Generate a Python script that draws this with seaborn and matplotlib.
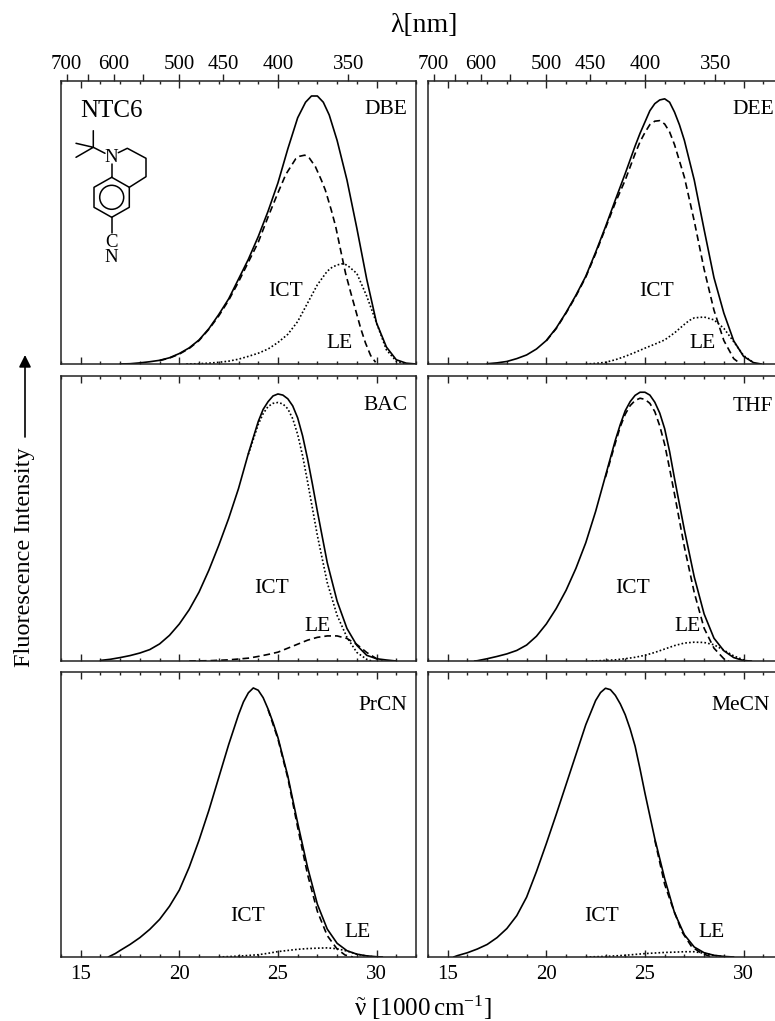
import matplotlib
matplotlib.use('Agg')
import matplotlib.pyplot as plt
from matplotlib.patches import Circle
from matplotlib.ticker import MultipleLocator
import seaborn as sns

# --- valores (x em 1000 cm-1, y em % da altura do painel) ---
dbe_total_x = [17, 17.5, 18, 18.5, 19, 19.5, 20, 20.5, 21, 21.5, 22, 22.5, 23, 23.5, 24, 24.5, 25, 25.5, 26, 26.4, 26.7, 27, 27.3, 27.6, 28, 28.5, 29, 29.5, 30, 30.5, 31, 31.5, 32]
dbe_total_y = [0, 0.1, 0.4, 0.8, 1.3, 2.2, 3.7, 5.7, 8.5, 12.5, 17.5, 23, 30, 37, 45, 54, 64, 76, 87, 92.5, 94.7, 94.7, 92.5, 88, 79, 65, 48, 30, 14.5, 6, 1.5, 0.3, 0]
dbe_dash_x = [19, 19.5, 20, 20.5, 21, 21.5, 22, 22.5, 23, 23.5, 24, 24.5, 25, 25.4, 25.9, 26.1, 26.36, 26.6, 26.9, 27.2, 27.4, 27.7, 27.93, 28.2, 28.43, 28.7, 28.94, 29.2, 29.44, 29.7, 29.95]
dbe_dash_y = [1.2, 2.1, 3.5, 5.5, 8.3, 12.3, 17, 22.5, 29, 36, 43, 52, 60.5, 67, 72.5, 73.4, 73.8, 72.7, 69.7, 65, 61.5, 54.5, 48.5, 39.5, 32, 25, 19, 12.5, 7.4, 3, 0.6]
dbe_dot_x = [20.35, 21, 21.5, 22, 22.5, 23, 23.5, 24, 24.5, 25, 25.5, 26, 26.5, 27, 27.5, 27.75, 28, 28.25, 28.5, 29, 29.5, 30, 30.5, 31, 31.5]
dbe_dot_y = [0, 0.1, 0.3, 0.6, 1, 1.7, 2.7, 3.8, 5.3, 7.6, 10.5, 15, 21.5, 28, 32.8, 34.2, 35, 35.4, 35, 32, 24, 14.5, 5, 1, 0]

dee_total_x = [17, 17.5, 18, 18.5, 19, 19.5, 20, 20.5, 21, 21.5, 22, 22.5, 23, 23.5, 24, 24.5, 24.75, 25, 25.25, 25.5, 25.75, 26, 26.25, 26.5, 26.75, 27, 27.5, 28, 28.5, 29, 29.5, 30, 30.5, 30.9]
dee_total_y = [0.1, 0.4, 0.9, 1.9, 3.2, 5.3, 8.3, 12.7, 18.2, 24.3, 31, 39.5, 48.5, 58, 67.3, 77, 81.5, 85.5, 89.5, 92, 93.3, 93.7, 92.5, 89, 84.5, 79, 65, 47.5, 30.5, 18, 8.2, 2.7, 0.5, 0]
dee_dash_x = [20, 20.5, 21, 21.5, 22, 22.5, 23, 23.5, 24, 24.5, 24.75, 25, 25.25, 25.5, 25.75, 26, 26.25, 26.5, 27, 27.5, 28, 28.5, 29, 29.5, 29.8]
dee_dash_y = [8.2, 12.5, 18, 24, 30.7, 39, 48, 57, 65, 74.3, 78.5, 81.8, 84.6, 85.8, 86, 84.8, 82, 77.5, 66, 50.5, 33.5, 19, 8.3, 1.9, 0.3]
dee_dot_x = [22, 22.5, 23, 23.5, 24, 24.5, 25, 25.5, 26, 26.5, 27, 27.25, 27.5, 28, 28.5, 29, 29.5, 30, 30.5]
dee_dot_y = [0, 0.2, 0.6, 1.5, 2.7, 4.1, 5.6, 7, 8.5, 11, 14, 15.4, 16.3, 16.6, 15.6, 12.6, 7.9, 3, 0.5]

bac_total_x = [16, 16.5, 17, 17.5, 18, 18.5, 19, 19.5, 20, 20.5, 21, 21.5, 22, 22.5, 23, 23.5, 24, 24.25, 24.5, 24.75, 25, 25.25, 25.5, 25.75, 26, 26.25, 26.5, 26.75, 27, 27.5, 28, 28.5, 29, 29.5, 30, 30.5, 31]
bac_total_y = [0.2, 0.6, 1.2, 1.9, 2.8, 4, 6, 9, 13, 18, 24.2, 31.9, 40.6, 50, 60.5, 72.8, 84, 88.3, 91, 93, 93.7, 93.3, 92, 89.5, 85.3, 79, 71, 62, 52.5, 34.5, 21, 11.4, 5.5, 2, 0.8, 0.35, 0]
bac_dot_x = [23.5, 24, 24.25, 24.5, 24.75, 25, 25.25, 25.5, 25.75, 26, 26.25, 26.5, 26.75, 27, 27.5, 28, 28.5, 29, 29.5, 29.75]
bac_dot_y = [72.5, 83, 86.8, 89.3, 90.4, 90.7, 90.2, 88.5, 85, 79.5, 72, 63, 53.5, 44, 27.5, 16, 8.3, 3, 0.6, 0]
bac_dash_x = [20.5, 21.5, 22.5, 23, 23.5, 24, 24.5, 25, 25.5, 26, 26.5, 27, 27.5, 28, 28.5, 29, 29.5, 30, 30.3]
bac_dash_y = [0, 0.1, 0.4, 0.7, 1, 1.6, 2.3, 3.1, 4.5, 5.9, 7.3, 8.3, 8.8, 8.8, 7.9, 5.8, 3, 0.8, 0.2]

thf_total_x = [16.36, 16.5, 17, 17.5, 18, 18.5, 19, 19.5, 20, 20.5, 21, 21.5, 22, 22.5, 23, 23.5, 23.75, 24, 24.25, 24.5, 24.75, 25, 25.25, 25.5, 25.75, 26, 26.25, 26.5, 27, 27.5, 28, 28.5, 29, 29.5, 30, 30.4]
thf_total_y = [0, 0.1, 0.8, 1.6, 2.5, 3.7, 5.6, 8.7, 13, 18.4, 24.8, 32.5, 41.5, 52.5, 65, 77.5, 83, 87.8, 91, 93.2, 94.3, 94.3, 93.3, 90.8, 87, 81.5, 73.5, 64, 46, 29.5, 16.5, 8, 3.6, 1.2, 0.15, 0]
thf_dash_x = [23, 23.5, 23.75, 24, 24.25, 24.5, 24.75, 25, 25.25, 25.5, 25.75, 26, 26.25, 26.5, 27, 27.5, 28, 28.5, 29, 29.25]
thf_dash_y = [64.5, 76.5, 82.2, 86.6, 89.6, 91.4, 92.2, 91.8, 90.4, 87.5, 82.5, 76, 67.5, 58.5, 40, 24, 11.5, 4.5, 0.8, 0]
thf_dot_x = [22.3, 23, 23.5, 24, 24.5, 25, 25.5, 26, 26.5, 27, 27.5, 28, 28.5, 29, 29.5, 30, 30.2]
thf_dot_y = [0, 0.2, 0.4, 0.8, 1.3, 2, 3, 4.2, 5.4, 6.3, 6.6, 6.5, 5.7, 3.8, 1.8, 0.4, 0]

prcn_total_x = [16.4, 16.75, 17, 17.5, 18, 18.5, 19, 19.5, 20, 20.5, 21, 21.5, 22, 22.5, 23, 23.25, 23.5, 23.75, 24, 24.25, 24.5, 24.75, 25, 25.5, 26, 26.5, 27, 27.5, 28, 28.5, 29, 29.5, 30, 30.3]
prcn_total_y = [0, 1.2, 2.3, 4.4, 6.8, 9.7, 13.2, 17.8, 23.5, 31.5, 41, 51.5, 63, 74.5, 85, 89.5, 92.7, 94.4, 93.6, 91, 87, 82.3, 77, 63.5, 47, 31.5, 18.5, 9.8, 4.8, 2.2, 1, 0.4, 0.1, 0]
prcn_dash_x = [24.5, 25, 25.5, 26, 26.5, 27, 27.5, 28, 28.4, 28.8]
prcn_dash_y = [86.8, 76.5, 62.8, 45.5, 29, 16, 7.5, 2.8, 0.7, 0]
prcn_dot_x = [22, 23, 24, 24.5, 25, 25.5, 26, 26.5, 27, 27.5, 28, 28.5, 29, 29.5, 30]
prcn_dot_y = [0, 0.3, 0.8, 1.3, 1.9, 2.3, 2.7, 2.95, 3.1, 3.2, 2.9, 2.1, 1, 0.3, 0]

mecn_total_x = [15.3, 15.5, 16, 16.5, 17, 17.5, 18, 18.5, 19, 19.5, 20, 20.5, 21, 21.5, 22, 22.5, 22.75, 23, 23.25, 23.5, 23.75, 24, 24.25, 24.5, 24.75, 25, 25.5, 26, 26.5, 27, 27.5, 28, 28.5, 29, 29.5]
mecn_total_y = [0, 0.5, 1.5, 2.8, 4.4, 6.8, 10, 14.5, 21, 30, 39.8, 50, 60.5, 71, 81.5, 90, 92.8, 94.3, 93.8, 91.8, 88.8, 85, 80, 74, 66, 57.5, 41.5, 27.5, 15.5, 7.8, 3.5, 1.5, 0.6, 0.2, 0]
mecn_dash_x = [25.5, 26, 26.36, 26.87, 27.37, 27.87, 28.38]
mecn_dash_y = [41, 25.5, 18.3, 8.9, 3.6, 1.3, 0]
mecn_dot_x = [22, 23, 24, 25, 25.5, 26, 26.5, 27, 27.5, 28, 28.5, 29]
mecn_dot_y = [0, 0.2, 0.6, 1.2, 1.4, 1.6, 1.7, 1.85, 1.85, 1.3, 0.55, 0.1]

solvents = ['DBE', 'DEE', 'BAC', 'THF', 'PrCN', 'MeCN']
wavelength_labeled = [700, 600, 500, 450, 400, 350]
wavelength_unlabeled = [650, 550]
wavenumber_ticks = [15, 20, 25, 30]

DASH = (0, (4, 2.4))
DOT = (0, (1, 1.3))

sns.set_theme(style='ticks')
plt.rcParams['font.family'] = ['Liberation Serif', 'DejaVu Serif']
# mathtext reto na mesma fonte, para o nu com til
plt.rcParams['mathtext.fontset'] = 'custom'
plt.rcParams['mathtext.rm'] = 'Liberation Serif'
plt.rcParams['mathtext.it'] = 'Liberation Serif'
plt.rcParams['axes.edgecolor'] = '#222222'
plt.rcParams['text.color'] = 'black'
plt.rcParams['xtick.labelcolor'] = 'black'

W, H = 775, 1021
fig = plt.figure(figsize=(W / 100, H / 100), dpi=100)


def panel_axes(left, top, bottom):
    # 355 px de largura, o painel da direita passa da borda da figura
    return fig.add_axes([left / W, 1 - bottom / H, 355 / W, (bottom - top) / H])


def draw(ax, xs, ys, style):
    sns.lineplot(x=xs, y=ys, ax=ax, color='black', linewidth=1.2, linestyle=style,
                 estimator=None, sort=False, errorbar=None)


panels = [
    (61, 81, 364, [(dbe_total_x, dbe_total_y, '-'), (dbe_dash_x, dbe_dash_y, DASH), (dbe_dot_x, dbe_dot_y, DOT)]),
    (428, 81, 364, [(dee_total_x, dee_total_y, '-'), (dee_dash_x, dee_dash_y, DASH), (dee_dot_x, dee_dot_y, DOT)]),
    (61, 376, 661, [(bac_total_x, bac_total_y, '-'), (bac_dot_x, bac_dot_y, DOT), (bac_dash_x, bac_dash_y, DASH)]),
    (428, 376, 661, [(thf_total_x, thf_total_y, '-'), (thf_dash_x, thf_dash_y, DASH), (thf_dot_x, thf_dot_y, DOT)]),
    (61, 672, 957, [(prcn_total_x, prcn_total_y, '-'), (prcn_dash_x, prcn_dash_y, DASH), (prcn_dot_x, prcn_dot_y, DOT)]),
    (428, 672, 957, [(mecn_total_x, mecn_total_y, '-'), (mecn_dash_x, mecn_dash_y, DASH), (mecn_dot_x, mecn_dot_y, DOT)]),
]

for i, (left, top, bottom, curves) in enumerate(panels):
    ax = panel_axes(left, top, bottom)
    for xs, ys, style in curves:
        draw(ax, xs, ys, style)
    ax.set_xlim(14, 32)
    ax.set_ylim(0, 100)
    ax.set_yticks([])
    ax.xaxis.set_major_locator(MultipleLocator(5))
    ax.xaxis.set_minor_locator(MultipleLocator(1))
    ax.tick_params(axis='x', which='major', direction='in', top=True, bottom=True, length=5, width=1,
                   color='#222222', labelbottom=i >= 4, labelsize=15, pad=6)
    ax.tick_params(axis='x', which='minor', direction='in', top=True, bottom=True, length=2.5, width=1,
                   color='#222222')
    ax.set_xticks(wavenumber_ticks)
    for s in ax.spines.values():
        s.set_linewidth(1.1)
    if i < 2:
        # eixo de comprimento de onda em nm
        sec = ax.secondary_xaxis('top', functions=(lambda k: 1e4 / k, lambda k: 1e4 / k))
        sec.set_xticks(wavelength_labeled)
        sec.set_xticks(wavelength_unlabeled, minor=True)
        sec.tick_params(axis='x', which='both', direction='out', length=5, width=1, color='#222222',
                        labelsize=15, pad=0)
        sec.spines['top'].set_visible(False)

# camada em pixels para os textos e a estrutura
over = fig.add_axes([0, 0, 1, 1], facecolor='none')
over.set_xlim(0, W)
over.set_ylim(H, 0)
over.axis('off')

solvent_pos = [(385.7, 109), (753, 110), (385.7, 405), (753, 406.7), (383, 705), (740.7, 705)]
ict_pos = [(285.7, 291.7), (656.7, 291.7), (271.7, 588), (633, 588), (248, 916), (602, 916)]
le_pos = [(340, 343), (703, 343), (318, 626), (688, 626), (358, 932), (712, 932)]
for name, p1, p2, p3 in zip(solvents, solvent_pos, ict_pos, le_pos):
    over.text(p1[0], p1[1], name, fontsize=15.5, ha='center', va='center')
    over.text(p2[0], p2[1], 'ICT', fontsize=15.5, ha='center', va='center')
    over.text(p3[0], p3[1], 'LE', fontsize=15.5, ha='center', va='center')

over.text(111.7, 111, 'NTC6', fontsize=18, ha='center', va='center')
over.text(424, 25, 'λ[nm]', fontsize=20, ha='center', va='center')
over.text(354, 1016, r'$\tilde{\nu}$ [1000$\,$cm$^{-1}$]', fontsize=18, ha='left', va='baseline')
over.text(25, 557, 'Fluorescence Intensity', fontsize=17.5, rotation=90, ha='center', va='center')
over.annotate('', xy=(25, 355), xytext=(25, 437),
              arrowprops=dict(arrowstyle='-|>', color='black', lw=1.2, mutation_scale=18, shrinkA=0, shrinkB=0))

# estrutura da molecula (pixels)
bonds = [
    [(76, 157.3), (93.3, 147.3), (76, 143.3)],
    [(93.3, 130.7), (93.3, 147.3), (105, 153.3)],
    [(118.3, 152.7), (127.3, 148.3), (146, 158.3), (146, 176.7), (129.3, 187.3)],
    [(111.7, 164), (111.7, 177.3)],
    [(111.7, 177.3), (129.3, 187.3), (129.3, 207.3), (111.7, 217.3), (94, 207.3), (94, 187.3), (111.7, 177.3)],
    [(111.7, 217.3), (111.7, 232.7)],
]
for b in bonds:
    over.plot([p[0] for p in b], [p[1] for p in b], color='black', lw=1.1, solid_capstyle='round')
over.add_patch(Circle((111.7, 197.3), 12, fill=False, ec='black', lw=1.1))
over.text(111.7, 157, 'N', fontsize=13.5, ha='center', va='center')
over.text(111.7, 250, 'C\nN', fontsize=13.5, ha='center', va='center', linespacing=0.8)

fig.savefig('out.png', dpi=100)
